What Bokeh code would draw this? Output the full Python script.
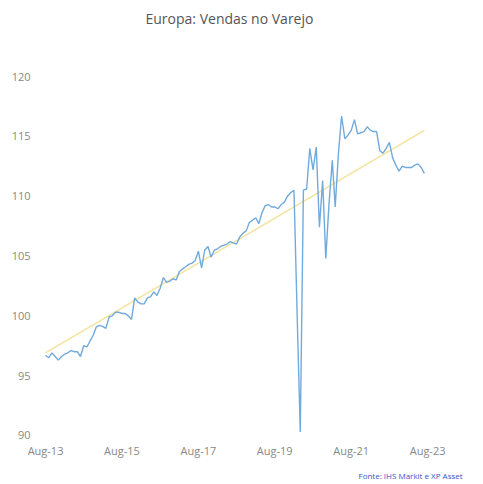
import pandas as pd
from bokeh.plotting import figure
from bokeh.models import FixedTicker, DatetimeTickFormatter, Range1d, Title, Label
from bokeh.embed import file_html
from bokeh.resources import INLINE

title_text = "Europa: Vendas no Varejo"
source_text = "Fonte: IHS Markit e XP Asset"

start_month = "2013-08-01"
retail_values = [
    96.7, 96.5, 96.9, 96.6, 96.3, 96.6, 96.8, 96.9, 97.1, 97.0,
    97.0, 96.6, 97.5, 97.4, 97.9, 98.4, 99.1, 99.2, 99.1, 98.95,
    99.9, 100.0, 100.3, 100.3, 100.2, 100.2, 100.0, 99.7, 101.5, 101.15,
    101.0, 101.0, 101.5, 101.6, 102.0, 101.7, 102.3, 103.2, 102.8, 102.9,
    103.1, 103.0, 103.7, 103.9, 104.1, 104.3, 104.4, 104.6, 105.4, 104.0,
    105.5, 105.8, 104.9, 105.5, 105.6, 105.8, 105.9, 106.0, 106.2, 106.1,
    106.0, 106.6, 106.9, 107.1, 107.8, 108.0, 108.2, 107.7, 108.6, 109.2,
    109.3, 109.1, 109.1, 108.95, 109.3, 109.5, 110.0, 110.3, 110.5, 100.5,
    90.3, 110.5, 110.6, 114.0, 112.2, 114.1, 107.4, 111.3, 104.8, 109.4,
    113.0, 109.1, 113.6, 116.7, 114.8, 115.1, 115.5, 116.4, 115.2, 115.3,
    115.4, 115.8, 115.5, 115.4, 115.4, 113.8, 113.6, 114.0, 114.5, 113.2,
    112.6, 112.1, 112.5, 112.4, 112.4, 112.4, 112.6, 112.7, 112.4, 111.9,
]
trend_values = [96.9, 115.5]

tick_dates = ["2013-08-01", "2015-08-01", "2017-08-01", "2019-08-01", "2021-08-01", "2023-08-01"]
y_ticks = [90, 95, 100, 105, 110, 115, 120]

dates = pd.date_range(start_month, periods=len(retail_values), freq="MS")
trend_dates = [dates[0], dates[-1]]

FONT = "Open Sans"

p = figure(frame_width=435, frame_height=436, x_axis_type="datetime",
           output_backend="svg", toolbar_location=None,
           min_border_left=40, min_border_right=0, min_border_top=4, min_border_bottom=20)
p.x_range = Range1d(pd.Timestamp("2013-06-14"), pd.Timestamp("2024-11-01"))
p.y_range = Range1d(89.58, 126.02)

p.line(trend_dates, trend_values, line_color="#f3e3a0", line_width=1.6)
p.line(dates, retail_values, line_color="#72aadc", line_width=1.4)

p.add_layout(Label(x=105, y=422, x_units="screen", y_units="screen", text=title_text,
                   text_font=FONT, text_font_size="14px", text_color="#555555",
                   text_baseline="middle", text_align="left"))

src = Title(text=source_text, align="left", offset=318, standoff=14,
            text_font=FONT, text_font_size="8px",
            text_color="#3355cc", text_font_style="normal")
p.add_layout(src, "below")

p.xaxis.ticker = FixedTicker(ticks=[pd.Timestamp(d).value / 1e6 for d in tick_dates])
p.xaxis.formatter = DatetimeTickFormatter(days="%b-%y", months="%b-%y", years="%b-%y")
p.yaxis.ticker = FixedTicker(ticks=y_ticks)

for ax in (p.xaxis, p.yaxis):
    ax.axis_line_color = None
    ax.major_tick_line_color = None
    ax.minor_tick_line_color = None
    ax.major_tick_out = 0
    ax.major_tick_in = 0
    ax.minor_tick_out = 0
    ax.major_label_text_font = FONT
    ax.major_label_text_font_size = "11px"
    ax.major_label_text_color = "#888888"
p.yaxis.major_label_standoff = 10
p.xaxis.major_label_standoff = 2

p.xgrid.grid_line_color = None
p.ygrid.grid_line_color = None
p.outline_line_color = None
p.background_fill_color = "white"
p.border_fill_color = "white"

open("out.html", "w").write(file_html(p, INLINE))
